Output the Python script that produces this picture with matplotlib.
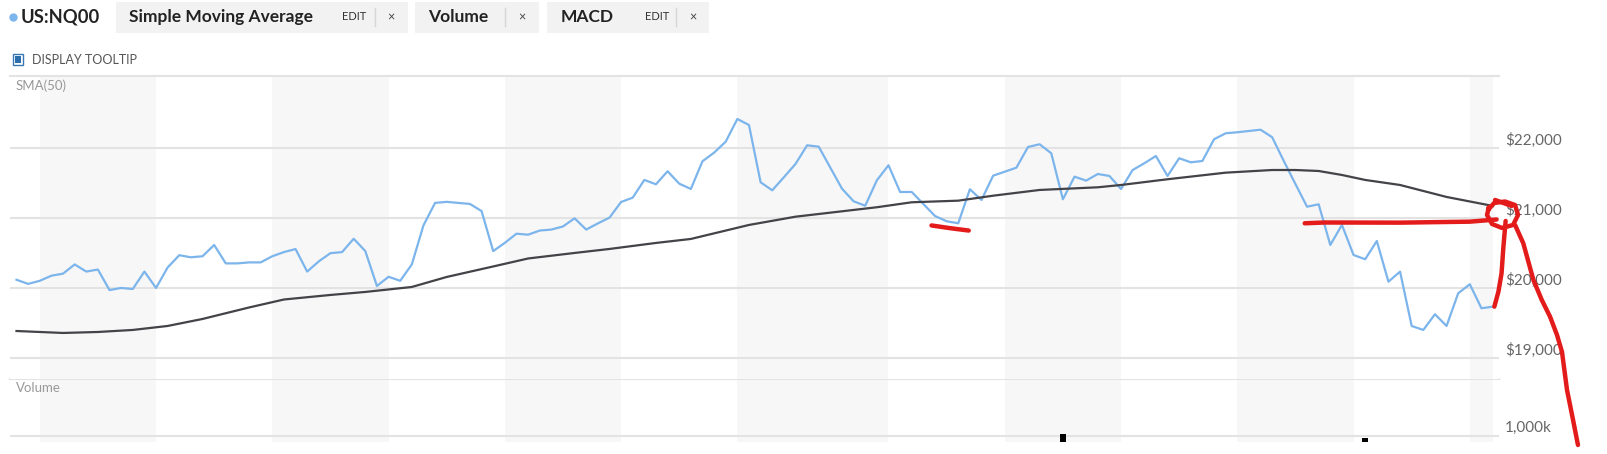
import matplotlib
matplotlib.use("Agg")
import matplotlib.pyplot as plt
from matplotlib.patches import Rectangle
from matplotlib.lines import Line2D
import numpy as np

plt.rcParams['font.family'] = ['Lato', 'DejaVu Sans']

# ---------------- data ----------------
price = [20113, 20054, 20098, 20171, 20200, 20332, 20230, 20259, 19966, 19996,
         19981, 20230, 19996, 20289, 20464, 20434, 20449, 20610, 20347, 20347,
         20361, 20361, 20449, 20508, 20552, 20230, 20376, 20493, 20508, 20699,
         20523, 20024, 20156, 20098, 20332, 20889, 21211, 21226, 21211, 21196,
         21094, 20523, 20640, 20771, 20757, 20816, 20830, 20874, 20991, 20830,
         20918, 21000, 21224, 21286, 21539, 21477, 21663, 21486, 21410, 21806,
         21929, 22086, 22410, 22324, 21506, 21391, 21577, 21767, 22034, 22014,
         21714, 21414, 21234, 21171, 21534, 21749, 21367, 21367, 21196, 21024,
         20949, 20920, 21406, 21253, 21600, 21657, 21714, 22010, 22049, 21920,
         21263, 21586, 21529, 21624, 21596, 21410, 21681, 21777, 21881, 21596,
         21849, 21791, 21810, 22120, 22206, 22220, 22239, 22257, 22149, 21810,
         21481, 21157, 21191, 20610, 20896, 20467, 20406, 20667, 20086, 20229,
         19453, 19396, 19620, 19453, 19920, 20049, 19706, 19729]

sma_idx = [0, 4, 7, 10, 13, 16, 20, 23, 27, 30, 34, 37, 41, 44, 48, 51, 55, 58,
           63, 67, 74, 77, 81, 84, 88, 93, 95, 99, 104, 108, 110, 112, 114, 116,
           119, 123, 127]
sma_val = [19381, 19353, 19367, 19396, 19453, 19553, 19717, 19831, 19896, 19939,
           20010, 20153, 20303, 20417, 20496, 20553, 20639, 20696, 20896, 21014,
           21149, 21220, 21243, 21314, 21396, 21434, 21467, 21549, 21643, 21681,
           21681, 21667, 21610, 21539, 21467, 21296, 21167]

# alternating month shading (start index, end index)
month_bands = [(2, 12), (22, 32), (42, 52), (62, 75), (85, 95), (105, 115), (125, 127)]

price_ticks = [19000, 20000, 21000, 22000]
price_labels = ['$19,000', '$20,000', '$21,000', '$22,000']

vol_idx = [90, 116]
vol_k = [1280, 620]
vol_ticks = [1000]
vol_labels = ['1,000k']

# hand-drawn red annotation strokes (index, price)
mark1_x = [78.7, 80.3, 81.9]
mark1_y = [20889, 20850, 20816]
mark2_x = [110.8, 112.5, 119.0, 125.0, 127.3]
mark2_y = [20920, 20931, 20929, 20943, 20974]
loop_x = [126.57, 127.09, 128.03, 128.89, 129.15, 128.72, 127.77, 126.91, 126.48, 126.65]
loop_y = [21110, 21210, 21231, 21181, 21039, 20896, 20853, 20910, 21039, 21153]
tick_x = [127.17, 128.6]
tick_y = [21253, 21167]
drop_x = [128.08, 127.89, 127.73, 127.46, 127.11]
drop_y = [20953, 20586, 20206, 19943, 19729]
tail_x = [128.89, 129.6, 130.47, 131.19, 131.9, 132.5, 132.93, 133.36, 133.88, 134.3]
tail_y = [20896, 20634, 20110, 19824, 19586, 19324, 19081, 18539, 18110, 17753]

# ---------------- figure ----------------
W, H, DPI = 1607, 454, 100
fig = plt.figure(figsize=(W / DPI, H / DPI), dpi=DPI)
fig.patch.set_facecolor('white')


def fx(px):
    return px / W


def fy(py):
    return 1 - py / H


def rect(x0, y0, x1, y1, **kw):
    fig.patches.append(Rectangle((fx(x0), fy(y1)), (x1 - x0) / W, (y1 - y0) / H,
                                 transform=fig.transFigure, **kw))


# header tabs
for (a, b) in [(116, 408), (415, 539), (547, 709)]:
    rect(a, 1.7, b, 32.7, facecolor='#f2f2f2', edgecolor='none')
for sx in [375, 505, 676]:
    fig.add_artist(Line2D([fx(sx), fx(sx)], [fy(8), fy(26)], color='#d6d6d6', lw=1,
                          transform=fig.transFigure))
fig.add_artist(Line2D([fx(13.4)], [fy(16.7)], marker='o', ms=5, color='#7cb5ec',
                      transform=fig.transFigure))
ty = fy(17)
fig.text(fx(20.5), ty, 'US:NQ00', fontsize=13.2, fontweight='bold', color='#222222', va='center')
fig.text(fx(129), ty, 'Simple Moving Average', fontsize=12.5, fontweight='bold',
         color='#222222', va='center')
fig.text(fx(342), ty, 'EDIT', fontsize=8, color='#333333', va='center')
fig.text(fx(391), ty, '×', fontsize=9, color='#444444', va='center', ha='center')
fig.text(fx(428), ty, 'Volume', fontsize=12.5, fontweight='bold', color='#222222', va='center')
fig.text(fx(522), ty, '×', fontsize=9, color='#444444', va='center', ha='center')
fig.text(fx(561), ty, 'MACD', fontsize=12.5, fontweight='bold', color='#222222', va='center')
fig.text(fx(644.5), ty, 'EDIT', fontsize=8, color='#333333', va='center')
fig.text(fx(692.5), ty, '×', fontsize=9, color='#444444', va='center', ha='center')

# display tooltip checkbox
rect(12.5, 54.3, 23.2, 65, facecolor='white', edgecolor='#3a78b5', lw=1)
rect(14.6, 56.4, 21.1, 62.9, facecolor='#2c6eab', edgecolor='none')
fig.text(fx(31.5), fy(60), 'DISPLAY TOOLTIP', fontsize=9, color='#555555', va='center')

# axes
left, right = 10, 1499
top_main, bot_main, bot_vol = 76, 379.3, 441.7
ax = fig.add_axes([fx(left), fy(bot_main), (right - left) / W, (bot_main - top_main) / H])
axv = fig.add_axes([fx(left), fy(bot_vol), (right - left) / W, (bot_vol - bot_main) / H])
ax.set_zorder(3)
axv.set_zorder(2)

x = np.arange(len(price))
for a in (ax, axv):
    a.set_xlim(-0.56, 127.51)
    for (s, e) in month_bands:
        a.axvspan(s, e, color='#f7f7f7', lw=0, zorder=0)
    for sp in ['left', 'right', 'bottom']:
        a.spines[sp].set_visible(False)
    a.spines['top'].set_color('#e3e3e3')
    a.spines['top'].set_linewidth(1.5)
    a.set_xticks([])
    a.set_yticks([])

ax.set_ylim(18691, 23024)
for t, lbl in zip(price_ticks, price_labels):
    ax.axhline(t, color='#e3e3e3', lw=1.5, zorder=1)
    ax.annotate(lbl, xy=(1, t), xycoords=('axes fraction', 'data'), xytext=(6, 7.5),
                textcoords='offset pixels', ha='left', va='center', fontsize=11,
                color='#666666', annotation_clip=False)

ax.plot(x, price, color='#7cb5ec', lw=1.6, zorder=3, solid_joinstyle='round')
ax.plot(sma_idx, sma_val, color='#434348', lw=1.6, zorder=4, solid_joinstyle='round')

axv.set_ylim(0, 10400)
for t, lbl in zip(vol_ticks, vol_labels):
    axv.axhline(t, color='#e3e3e3', lw=1.5, zorder=1)
    axv.annotate(lbl, xy=(1, t), xycoords=('axes fraction', 'data'), xytext=(6, 7.5),
                 textcoords='offset pixels', ha='left', va='center', fontsize=11,
                 color='#666666', annotation_clip=False)
axv.bar(vol_idx, vol_k, width=0.55, color='black', zorder=3)

fig.text(fx(16), fy(86), 'SMA(50)', fontsize=9.5, color='#999999', va='center')
fig.text(fx(16), fy(388), 'Volume', fontsize=9.5, color='#999999', va='center')

# red annotations
red = dict(color='#e31b1b', lw=3.2, solid_capstyle='round', solid_joinstyle='round',
           clip_on=False, zorder=10)
for xs, ys in [(mark1_x, mark1_y), (mark2_x, mark2_y), (loop_x + loop_x[:1], loop_y + loop_y[:1]),
               (tick_x, tick_y), (drop_x, drop_y), (tail_x, tail_y)]:
    ax.plot(xs, ys, **red)

fig.savefig('out.png', dpi=DPI)
